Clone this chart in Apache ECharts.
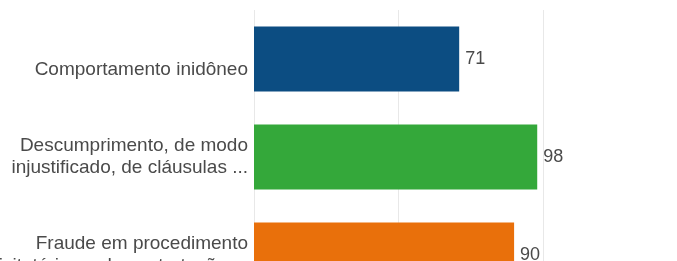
<!DOCTYPE html>
<html lang="pt">
<head>
  <meta charset="UTF-8">
  <title>Sanções</title>
  <script src="https://cdn.jsdelivr.net/npm/echarts@6/dist/echarts.min.js"></script>
  <style>
    html, body { margin: 0; padding: 0; background: #fff; }
    #chart { width: 677px; height: 261px; }
  </style>
</head>
<body>
  <div id="chart"></div>
  <script>
    // categorias (já quebradas como aparecem no gráfico)
    var categories = [
      'Comportamento inidôneo',
      'Descumprimento, de modo\ninjustificado, de cláusulas ...',
      'Fraude em procedimento\nlicitatório ou de contratação ...'
    ]
    var values = [71, 98, 90]
    var colors = ['#0c4d82', '#34a83a', '#e9700b']

    var chart = echarts.init(document.getElementById('chart'))

    var barData = values.map(function (v, i) {
      return { value: v, itemStyle: { color: colors[i] } }
    })

    var option = {
      animation: false,
      // o gráfico original continua abaixo e à direita da área visível
      grid: { left: 254, top: 10, width: 433.5, height: 294, outerBoundsMode: 'none' },
      xAxis: {
        type: 'value',
        min: 0,
        max: 150,
        interval: 50,
        axisLabel: { show: false },
        axisLine: { show: false },
        axisTick: { show: false },
        splitLine: { lineStyle: { color: '#e8e8e8', width: 1 } }
      },
      yAxis: {
        type: 'category',
        data: categories,
        inverse: true,
        axisLine: { show: false },
        axisTick: { show: false },
        axisLabel: {
          margin: 6,
          color: '#4a4a4a',
          fontFamily: 'Liberation Sans, Arial, sans-serif',
          fontSize: 19,
          lineHeight: 22,
          align: 'right',
          // no original o rótulo de uma linha fica abaixo do centro da barra
          formatter: function (v) {
            return v.indexOf('\n') < 0 ? ' \n' + v : v
          }
        }
      },
      series: [{
        type: 'bar',
        data: barData,
        barWidth: 65,
        label: {
          show: true,
          position: 'right',
          distance: 6,
          color: '#4a4a4a',
          fontFamily: 'Liberation Sans, Arial, sans-serif',
          fontSize: 18
        }
      }]
    }
    chart.setOption(option)
  </script>
</body>
</html>
